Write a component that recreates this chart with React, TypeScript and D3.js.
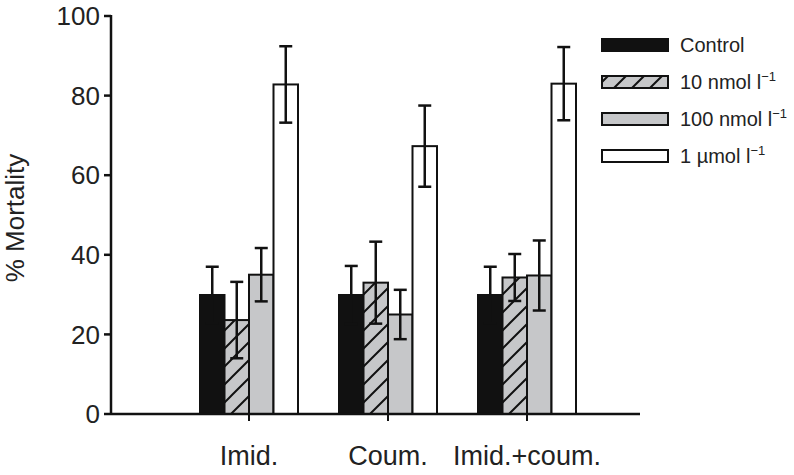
import React from "react";
import * as d3 from "d3";

const categories = ["Imid.", "Coum.", "Imid.+coum."];
const seriesNames = ["Control", "10 nmol", "100 nmol", "1 µmol"];
const controlVals = [29.9, 29.9, 29.9];
const controlErr = [7.1, 7.3, 7.1];
const nmol10Vals = [23.6, 33.0, 34.3];
const nmol10Err = [9.6, 10.3, 5.9];
const nmol100Vals = [35.0, 25.0, 34.8];
const nmol100Err = [6.7, 6.2, 8.8];
const umol1Vals = [82.8, 67.3, 83.0];
const umol1Err = [9.6, 10.2, 9.2];
const yTicks = [0, 20, 40, 60, 80, 100];

const seriesVals = [controlVals, nmol10Vals, nmol100Vals, umol1Vals];
const seriesErr = [controlErr, nmol10Err, nmol100Err, umol1Err];
const fills = ["#111111", "url(#hatch)", "#c6c7c9", "#ffffff"];

const FONT = "'Liberation Sans', Arial, Helvetica, sans-serif";

export default function App() {
  const y = d3.scaleLinear().domain([0, 100]).range([414, 16]);
  const x = d3.scaleBand<string>().domain(categories).range([179.5, 596.5]).padding(0);
  const inner = d3.scaleBand<string>().domain(seriesNames).range([-49, 49]).padding(0);
  const axisLeft = 111;
  const axisRight = 640;
  const capW = 13;

  const legendRows = [
    { fill: fills[0], label: <tspan>Control</tspan> },
    { fill: fills[1], label: <><tspan>10 nmol l</tspan><tspan dy={-8} fontSize={13}>−1</tspan></> },
    { fill: fills[2], label: <><tspan>100 nmol l</tspan><tspan dy={-8} fontSize={13}>−1</tspan></> },
    { fill: fills[3], label: <><tspan>1 µmol l</tspan><tspan dy={-8} fontSize={13}>−1</tspan></> },
  ];

  return (
    <svg width={794} height={475} style={{ position: "absolute", left: 0, top: 0, background: "#fff" }} fontFamily={FONT}>
      <defs>
        <pattern id="hatch" patternUnits="userSpaceOnUse" width={18} height={18}>
          <rect width={18} height={18} fill="#c6c7c9" />
          <path d="M-2,20 L20,-2 M-6,6 L6,-6 M12,24 L24,12" stroke="#111" strokeWidth={2} />
        </pattern>
      </defs>
      <rect width={794} height={475} fill="#fff" />

      {/* bars */}
      {categories.map((c, ci) => (
        <g key={c} transform={`translate(${(x(c) ?? 0) + x.bandwidth() / 2},0)`}>
          {seriesNames.map((s, si) => {
            const v = seriesVals[si][ci];
            const bx = inner(s) ?? 0;
            const bw = inner.bandwidth();
            return (
              <rect key={s} x={bx} y={y(v)} width={bw} height={y(0) - y(v)} fill={fills[si]} stroke="#111" strokeWidth={2} />
            );
          })}
          {seriesNames.map((s, si) => {
            const v = seriesVals[si][ci];
            const e = seriesErr[si][ci];
            const cx = (inner(s) ?? 0) + inner.bandwidth() / 2;
            return (
              <g key={s + "e"} stroke="#111" strokeWidth={2.5}>
                <line x1={cx} x2={cx} y1={y(v + e)} y2={y(v - e)} />
                <line x1={cx - capW / 2} x2={cx + capW / 2} y1={y(v + e)} y2={y(v + e)} />
                <line x1={cx - capW / 2} x2={cx + capW / 2} y1={y(v - e)} y2={y(v - e)} />
              </g>
            );
          })}
        </g>
      ))}

      {/* y axis */}
      <line x1={axisLeft} x2={axisLeft} y1={y(100) - 1} y2={y(0) + 1} stroke="#111" strokeWidth={2.5} />
      {yTicks.map((t) => (
        <g key={t}>
          <line x1={axisLeft - 7} x2={axisLeft} y1={y(t)} y2={y(t)} stroke="#111" strokeWidth={2.5} />
          <text x={axisLeft - 11} y={y(t)} dy="0.35em" textAnchor="end" fontSize={26} fill="#222">{t}</text>
        </g>
      ))}
      <text transform={`translate(24,${(y(0) + y(100)) / 2 + 3}) rotate(-90)`} textAnchor="middle" fontSize={26} fill="#222">% Mortality</text>

      {/* x axis */}
      <line x1={axisLeft} x2={axisRight} y1={y(0)} y2={y(0)} stroke="#111" strokeWidth={2.5} />
      {categories.map((c) => {
        const cx = (x(c) ?? 0) + x.bandwidth() / 2;
        return (
          <g key={c}>
            <line x1={cx} x2={cx} y1={y(0)} y2={y(0) + 7} stroke="#111" strokeWidth={2} />
            <text x={cx} y={465} textAnchor="middle" fontSize={27} fill="#222">{c}</text>
          </g>
        );
      })}

      {/* legend */}
      {legendRows.map((r, i) => {
        const cy = 45 + i * 37;
        return (
          <g key={i}>
            <rect x={602} y={cy - 6} width={66} height={12} fill={r.fill} stroke="#111" strokeWidth={2} />
            <text x={680} y={cy} dy="0.35em" fontSize={20} fill="#222">{r.label}</text>
          </g>
        );
      })}
    </svg>
  );
}
